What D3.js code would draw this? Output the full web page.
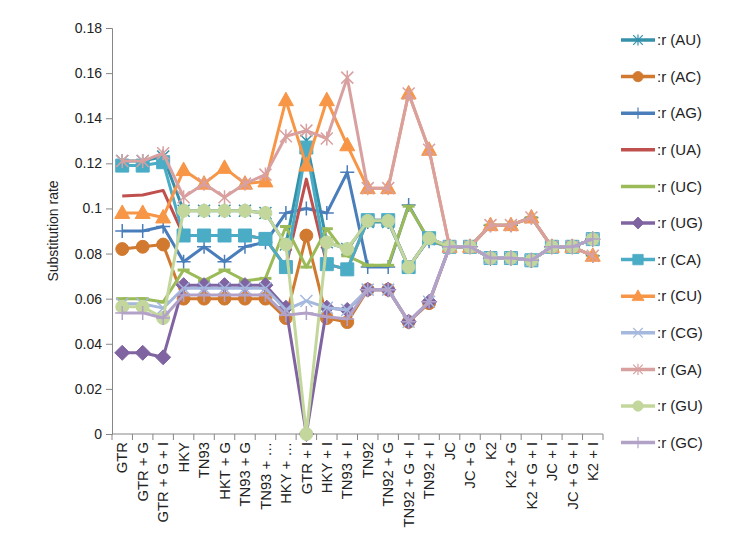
<!DOCTYPE html>
<html>
<head>
<meta charset="utf-8">
<script src="https://cdn.jsdelivr.net/npm/d3@7"></script>
<style>
  body { margin: 0; background: #fff; }
  text { font-family: "Liberation Sans", Arial, sans-serif; }
</style>
</head>
<body>
<script>
const w = 756;
const h = 542;

const categories = ['GTR', 'GTR + G', 'GTR + G + I', 'HKY', 'TN93', 'HKT + G', 'TN93 + G', 'TN93 + \u2026',
    'HKY + \u2026', 'GTR + I', 'HKY + I', 'TN93 + I', 'TN92', 'TN92 + G', 'TN92 + G + I', 'TN92 + I',
    'JC', 'JC + G', 'K2', 'K2 + G', 'K2 + G + I', 'JC + I', 'JC + G + I', 'K2 + I'];

const yTicks = [0, 0.02, 0.04, 0.06, 0.08, 0.1, 0.12, 0.14, 0.16, 0.18];

const rAU = [0.121, 0.121, 0.123, 0.099, 0.099, 0.099, 0.099, 0.098, 0.084, 0.130, 0.085, 0.082,
    0.094, 0.094, 0.074, 0.0865, 0.083, 0.083, 0.078, 0.078, 0.077, 0.083, 0.083, 0.0864];
const rAC = [0.082, 0.083, 0.084, 0.060, 0.060, 0.060, 0.060, 0.060, 0.0514, 0.088, 0.0514, 0.0496,
    0.064, 0.064, 0.0497, 0.058, 0.083, 0.083, 0.078, 0.078, 0.077, 0.083, 0.083, 0.0864];
const rAG = [0.090, 0.090, 0.092, 0.0764, 0.083, 0.0764, 0.083, 0.085, 0.098, 0.100, 0.098, 0.116,
    0.074, 0.074, 0.1015, 0.0855, 0.083, 0.083, 0.0926, 0.0926, 0.096, 0.083, 0.083, 0.079];
const rUA = [0.1055, 0.106, 0.108, 0.088, 0.088, 0.088, 0.088, 0.0865, 0.074, 0.113, 0.0753, 0.073,
    0.0948, 0.0948, 0.074, 0.0868, 0.083, 0.083, 0.078, 0.078, 0.077, 0.083, 0.083, 0.0864];
const rUC = [0.060, 0.060, 0.0585, 0.0727, 0.068, 0.0727, 0.068, 0.069, 0.092, 0.074, 0.091, 0.079,
    0.0748, 0.0748, 0.101, 0.086, 0.083, 0.083, 0.0926, 0.0926, 0.096, 0.083, 0.083, 0.079];
const rUG = [0.036, 0.036, 0.034, 0.066, 0.066, 0.066, 0.066, 0.066, 0.056, 0, 0.056, 0.055,
    0.064, 0.064, 0.0498, 0.0586, 0.083, 0.083, 0.078, 0.078, 0.077, 0.083, 0.083, 0.0864];
const rCA = [0.119, 0.119, 0.1205, 0.088, 0.088, 0.088, 0.088, 0.0865, 0.074, 0.127, 0.0753, 0.073,
    0.0948, 0.0948, 0.074, 0.0868, 0.083, 0.083, 0.078, 0.078, 0.077, 0.083, 0.083, 0.0864];
const rCU = [0.098, 0.098, 0.096, 0.117, 0.111, 0.118, 0.111, 0.112, 0.148, 0.119, 0.148, 0.128,
    0.109, 0.109, 0.151, 0.126, 0.083, 0.083, 0.0926, 0.0926, 0.096, 0.083, 0.083, 0.079];
const rCG = [0.0577, 0.0577, 0.0558, 0.0646, 0.0646, 0.0646, 0.0646, 0.0646, 0.055, 0.059, 0.056, 0.055,
    0.064, 0.064, 0.0498, 0.0586, 0.083, 0.083, 0.078, 0.078, 0.077, 0.083, 0.083, 0.0864];
const rGA = [0.121, 0.121, 0.1245, 0.105, 0.111, 0.105, 0.111, 0.115, 0.132, 0.1345, 0.131, 0.158,
    0.109, 0.109, 0.151, 0.126, 0.083, 0.083, 0.0926, 0.0926, 0.096, 0.083, 0.083, 0.079];
const rGU = [0.0564, 0.0564, 0.0514, 0.099, 0.099, 0.099, 0.099, 0.098, 0.084, 0, 0.085, 0.082,
    0.0945, 0.0945, 0.074, 0.0868, 0.083, 0.083, 0.078, 0.078, 0.077, 0.083, 0.083, 0.0864];
const rGC = [0.0537, 0.0537, 0.0514, 0.0616, 0.0616, 0.0616, 0.0616, 0.0616, 0.0527, 0.0536, 0.052, 0.051,
    0.064, 0.064, 0.0498, 0.0586, 0.083, 0.083, 0.078, 0.078, 0.077, 0.083, 0.083, 0.0864];

const seriesNames = ['AU', 'AC', 'AG', 'UA', 'UC', 'UG', 'CA', 'CU', 'CG', 'GA', 'GU', 'GC'];
const seriesValues = [rAU, rAC, rAG, rUA, rUC, rUG, rCA, rCU, rCG, rGA, rGU, rGC];

// style per series: colour + marker kind
const styles = {
    AU: {color: '#3590aa', marker: 'star'},
    AC: {color: '#d0792f', marker: 'circle'},
    AG: {color: '#4a7ebb', marker: 'plus'},
    UA: {color: '#c0504d', marker: 'none'},
    UC: {color: '#9bbb59', marker: 'dash'},
    UG: {color: '#8064a2', marker: 'diamond'},
    CA: {color: '#4bacc6', marker: 'square'},
    CU: {color: '#f79646', marker: 'triangle'},
    CG: {color: '#a5b8de', marker: 'times'},
    GA: {color: '#d9a0a0', marker: 'star'},
    GU: {color: '#c3d69b', marker: 'circle'},
    GC: {color: '#b3a2c7', marker: 'plus'}
};

const margin = {left: 112, right: 153, top: 28, bottom: 108};

const x = d3.scaleBand().domain(categories).range([margin.left, w - margin.right]);
const y = d3.scaleLinear().domain([0, 0.18]).range([h - margin.bottom, margin.top]);
const cx = d => x(d) + x.bandwidth() / 2;

const svg = d3.select('body').append('svg').attr('width', w).attr('height', h);

// y axis
const yAxis = svg.append('g')
    .attr('transform', `translate(${margin.left},0)`)
    .call(d3.axisLeft(y).tickValues(yTicks).tickSize(6).tickPadding(4)
        .tickFormat(d => String(+d.toFixed(2))));
yAxis.select('.domain').attr('stroke', '#868686');
yAxis.selectAll('.tick line').attr('stroke', '#868686');
yAxis.selectAll('.tick text').attr('font-size', '14px').attr('fill', '#222')
    .attr('font-family', '"Liberation Sans", Arial, sans-serif');

// x axis, ticks between categories
const xAxis = svg.append('g').attr('transform', `translate(0,${y(0)})`);
xAxis.append('line')
    .attr('x1', margin.left).attr('x2', w - margin.right)
    .attr('y1', 0).attr('y2', 0).attr('stroke', '#868686');
xAxis.selectAll('line.tk')
    .data(categories.concat(['end']))
    .enter().append('line')
    .attr('class', 'tk')
    .attr('x1', (d, i) => i < categories.length ? x(d) : w - margin.right)
    .attr('x2', (d, i) => i < categories.length ? x(d) : w - margin.right)
    .attr('y1', 0).attr('y2', 6).attr('stroke', '#868686');
xAxis.selectAll('text')
    .data(categories)
    .enter().append('text')
    .text(d => d)
    .attr('transform', d => `translate(${cx(d)},8) rotate(-90)`)
    .attr('text-anchor', 'end')
    .attr('dy', '0.35em')
    .attr('font-size', '14.8px')
    .attr('fill', '#222');

// axis title
svg.append('text')
    .text('Substitution rate')
    .attr('transform', `translate(58,${(y(0) + y(0.18)) / 2}) rotate(-90)`)
    .attr('text-anchor', 'middle')
    .attr('font-family', '"Open Sans", "Noto Sans", sans-serif')
    .attr('font-size', '14px')
    .attr('fill', '#222');

function markerPath(kind) {
    switch (kind) {
        case 'circle': return d3.symbol(d3.symbolCircle, 130)();
        case 'square': return 'M-6.5,-6.5H6.5V6.5H-6.5Z';
        case 'triangle': return 'M0,-8L7.5,5.5L-7.5,5.5Z';
        case 'diamond': return 'M0,-7.5L7.5,0L0,7.5L-7.5,0Z';
        case 'plus': return 'M0,-7V7M-7,0H7';
        case 'times': return 'M-6,-6L6,6M-6,6L6,-6';
        case 'star': return 'M0,-7V7M-6,-6L6,6M-6,6L6,-6';
        case 'dash': return 'M-6,0H6';
        default: return null;
    }
}
const filled = k => ['circle', 'square', 'triangle', 'diamond'].includes(k);

function drawMarker(g, kind, color) {
    const p = markerPath(kind);
    if (!p) return;
    g.append('path')
        .attr('d', p)
        .attr('fill', filled(kind) ? color : 'none')
        .attr('stroke', color)
        .attr('stroke-width', filled(kind) ? 1 : (kind === 'dash' ? 3 : 1.5));
}

const line = d3.line().x(d => cx(d.cat)).y(d => y(d.v));

seriesNames.forEach((name, si) => {
    const st = styles[name];
    const pts = categories.map((c, i) => ({cat: c, v: seriesValues[si][i]}));
    const g = svg.append('g');
    g.append('path')
        .datum(pts)
        .attr('d', line)
        .attr('fill', 'none')
        .attr('stroke', st.color)
        .attr('stroke-width', 3)
        .attr('stroke-linejoin', 'round');
    pts.forEach(p => {
        const m = g.append('g').attr('transform', `translate(${cx(p.cat)},${y(p.v)})`);
        drawMarker(m, st.marker, st.color);
    });
});

// legend
const legend = svg.append('g');
seriesNames.forEach((name, i) => {
    const st = styles[name];
    const ly = 40 + i * 36.6;
    const row = legend.append('g').attr('transform', `translate(0,${ly})`);
    row.append('line')
        .attr('x1', 621).attr('x2', 655)
        .attr('stroke', st.color).attr('stroke-width', 3.5);
    const m = row.append('g').attr('transform', 'translate(638,0) scale(0.8)');
    drawMarker(m, st.marker, st.color);
    row.append('text')
        .text(':r (' + name + ')')
        .attr('x', 657)
        .attr('dy', '0.35em')
        .attr('font-size', '15px')
        .attr('fill', '#222');
});
</script>
</body>
</html>
